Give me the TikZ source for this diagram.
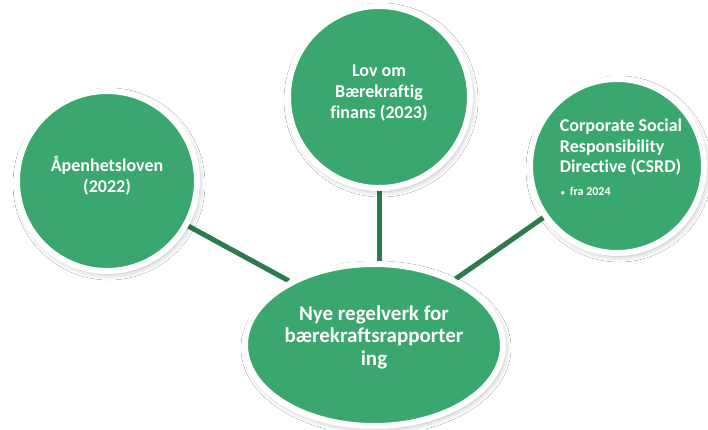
\documentclass[tikz,border=0pt]{standalone}
\usepackage{fontspec}
\setmainfont{Carlito}[Ligatures=NoCommon]
\usetikzlibrary{shapes.geometric,shadows.blur,backgrounds}
\definecolor{bubblegreen}{RGB}{58,168,110}
\definecolor{linkgreen}{RGB}{44,122,78}
\tikzset{
  bubble/.style={circle, fill=bubblegreen, draw=white, line width=6pt, inner sep=0pt,
    blur shadow={shadow xshift=2pt, shadow yshift=-3pt, shadow blur radius=6pt, shadow opacity=30}},
  hub/.style={ellipse, fill=bubblegreen, draw=white, line width=6pt, inner sep=0pt,
    minimum width=258pt, minimum height=162pt,
    blur shadow={shadow xshift=2pt, shadow yshift=-3pt, shadow blur radius=6pt, shadow opacity=30}},
  link/.style={draw=linkgreen, line width=5pt},
  lbl/.style={text=white, font=\bfseries\fontsize{18}{21}\selectfont, align=center, inner sep=0pt},
}
\begin{document}
\begin{tikzpicture}[x=1pt,y=-1pt]
\useasboundingbox (0,0) rectangle (708,429);
\node[bubble, minimum size=180pt] (L) at (107,181) {};
\node[bubble, minimum size=182pt] (T) at (379,97) {};
\node[bubble, minimum size=174pt] (R) at (617,166) {};
\node[hub] (C) at (374,345) {};
\begin{scope}[on background layer]
  \path[fill=white] (0,0) rectangle (708,429);
  \draw[link] (L.-29) -- (C.143);
  \draw[link] (T.south) -- (T.south |- C.north);
  \draw[link] (R.215) -- (C.39);
\end{scope}
\node[lbl] (Lt) at (107,176) {Åpenhetsloven\\(2022)};
\node[lbl] (Tt) at (379,93) {Lov om\\Bærekraftig\\finans (2023)};
\node[lbl, align=left, font=\bfseries\fontsize{18}{20.5}\selectfont] (Rt) at (621,157)
  {Corporate Social\\Responsibility\\Directive (CSRD)\\[2pt]
   {\fontsize{12}{14}\selectfont\hspace{1pt}{\fontsize{8}{8}\selectfont\textbullet}\hspace{5pt}fra 2024}};
\node[lbl, font=\bfseries\fontsize{21}{22.5}\selectfont] (Ct) at (374,337)
  {Nye regelverk for\\bærekraftsrapporter\\ing};
\end{tikzpicture}
\end{document}
